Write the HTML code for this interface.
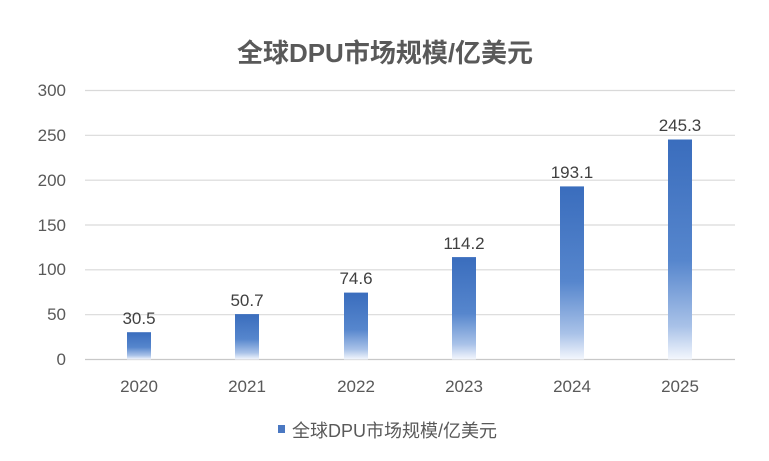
<!DOCTYPE html>
<html><head><meta charset="utf-8"><style>
html,body{margin:0;padding:0;background:#fff;}
svg{display:block;font-family:"Liberation Sans","Noto Sans CJK SC",sans-serif;}
</style></head><body>
<svg width="769" height="461" viewBox="0 0 769 461">
<defs>
<linearGradient id="g" x1="0" y1="0" x2="0" y2="1">
<stop offset="0" stop-color="#3a6dbd"/>
<stop offset="0.55" stop-color="#5686cd"/>
<stop offset="0.85" stop-color="#a9c2e8"/>
<stop offset="1" stop-color="#f4f7fd"/>
</linearGradient>
</defs>
<text x="385" y="62" text-anchor="middle" font-size="26" font-weight="bold" fill="#595959">全球DPU市场规模/亿美元</text>
<g stroke="#d9d9d9" stroke-width="1.2">
<line x1="85" x2="735" y1="90.5" y2="90.5"/>
<line x1="85" x2="735" y1="135.3" y2="135.3"/>
<line x1="85" x2="735" y1="180.2" y2="180.2"/>
<line x1="85" x2="735" y1="225" y2="225"/>
<line x1="85" x2="735" y1="269.8" y2="269.8"/>
<line x1="85" x2="735" y1="314.7" y2="314.7"/>
<line x1="85" x2="735" y1="359.5" y2="359.5" stroke="#c8c8c8"/>
</g>
<g font-size="17" fill="#595959" text-anchor="end">
<text x="66" y="96">300</text><text x="66" y="141">250</text><text x="66" y="186">200</text>
<text x="66" y="231">150</text><text x="66" y="275">100</text><text x="66" y="320">50</text><text x="66" y="365">0</text>
</g>
<g fill="url(#g)">
<rect x="127" y="332.2" width="24" height="27.3"/>
<rect x="235" y="314.1" width="24" height="45.4"/>
<rect x="344" y="292.6" width="24" height="66.9"/>
<rect x="452" y="257.1" width="24" height="102.4"/>
<rect x="560" y="186.4" width="24" height="173.1"/>
<rect x="668" y="139.5" width="24" height="220"/>
</g>
<g font-size="17" fill="#404040" text-anchor="middle">
<text x="139" y="324">30.5</text><text x="247" y="306">50.7</text><text x="356" y="284">74.6</text>
<text x="464" y="249">114.2</text><text x="572" y="178">193.1</text><text x="680" y="131">245.3</text>
</g>
<g font-size="17" fill="#595959" text-anchor="middle">
<text x="139" y="392">2020</text><text x="247" y="392">2021</text><text x="356" y="392">2022</text>
<text x="464" y="392">2023</text><text x="572" y="392">2024</text><text x="680" y="392">2025</text>
</g>
<rect x="278" y="425" width="7" height="8" fill="#4a78c2"/>
<text x="292" y="437" font-size="18" fill="#595959">全球DPU市场规模/亿美元</text>
</svg>
</body></html>
